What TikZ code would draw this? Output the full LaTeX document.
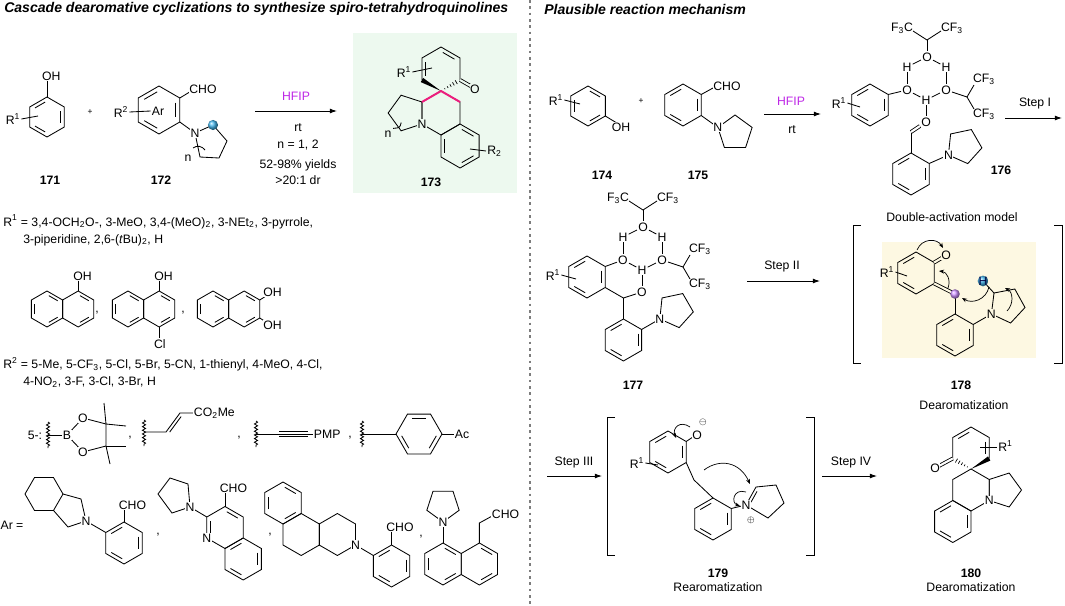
\documentclass[tikz,border=0pt]{standalone}
\usepackage{fontspec}
\setmainfont{Liberation Sans}
\usetikzlibrary{calc,arrows.meta,decorations.pathmorphing}

\definecolor{boxgreen}{RGB}{237,249,239}
\definecolor{boxyellow}{RGB}{253,248,226}
\definecolor{hfip}{RGB}{190,40,230}
\definecolor{bondpink}{RGB}{236,30,125}
\definecolor{dotblue}{RGB}{70,185,240}
\definecolor{dotviolet}{RGB}{205,145,255}
\definecolor{sepgray}{RGB}{125,125,125}

\newcommand{\hexpts}[5]{%
  \coordinate (#1-c) at (#2,#3);
  \foreach \k in {1,...,6}
    \coordinate (#1-\k) at ($(#2,#3)+({#5+60*(\k-1)}:#4)$);}
\newcommand{\hexat}[5]{%
  \hexpts{#1}{#2}{#3}{#4}{#5}
  \draw (#1-1) -- (#1-2) -- (#1-3) -- (#1-4) -- (#1-5) -- (#1-6) -- cycle;}
\newcommand{\penat}[5]{%
  \coordinate (#1-c) at (#2,#3);
  \foreach \k in {1,...,5}
    \coordinate (#1-\k) at ($(#2,#3)+({#5+72*(\k-1)}:#4)$);
  \draw (#1-1) -- (#1-2) -- (#1-3) -- (#1-4) -- (#1-5) -- cycle;}
\newcommand{\inb}[2]{%
  \foreach \a/\b in {#2}
    \draw[dbl] ($(#1-\a)!.2!(#1-c)$) -- ($(#1-\b)!.2!(#1-c)$);}
\newcommand{\wedgeb}[2]{%
  \fill (#1) -- ($(#2)!1.7pt!90:(#1)$) -- ($(#2)!1.7pt!-90:(#1)$) -- cycle;}
\newcommand{\hashb}[2]{%
  \foreach \t in {0.2,0.35,...,0.95}
    \draw[line width=0.5pt] ($(#1)!\t!(#2)!{\t*1.9pt}!90:(#2)$) -- ($(#1)!\t!(#2)!{\t*1.9pt}!-90:(#2)$);}
\newcommand{\hfipc}[3]{%
  \begin{scope}[shift={(#2,#3)}]
    \node (#1-Fa) at (-5,-62) {F\textsubscript{3}C};
    \node (#1-Fb) at (45,-62) {CF\textsubscript{3}};
    \coordinate (#1-Ca) at (20,-50);
    \node (#1-Oa) at (20,-33) {O};
    \node (#1-Ha) at (0,-23) {H};
    \node (#1-Hb) at (39,-23) {H};
    \node (#1-Ol) at (0,0) {O};
    \node (#1-Or) at (39,0) {O};
    \node (#1-Hc) at (19,10) {H};
    \node (#1-Ob) at (19,32) {O};
    \coordinate (#1-Cb) at (60,7);
    \node (#1-Fc) at (77,-11) {CF\textsubscript{3}};
    \node (#1-Fd) at (77,24) {CF\textsubscript{3}};
    \draw (6,-59) -- (#1-Ca) -- (34,-59);
    \draw (#1-Ca) -- (#1-Oa);
    \draw (#1-Oa) -- (#1-Ha);
    \draw (#1-Oa) -- (#1-Hb);
    \draw (#1-Ha) -- (#1-Ol);
    \draw (#1-Hb) -- (#1-Or);
    \draw (#1-Ol) -- (#1-Hc);
    \draw (#1-Hc) -- (#1-Or);
    \draw (#1-Hc) -- (#1-Ob);
    \draw (#1-Or) -- (#1-Cb) -- (67,-5);
    \draw (#1-Cb) -- (67,19);
  \end{scope}}

\begin{document}
\begin{tikzpicture}[x=0.025cm, y=-0.025cm, line width=0.6pt,
  every node/.style={font=\fontsize{8.7}{10}\selectfont, inner sep=0.6pt},
  atom/.style={fill=white, inner sep=0.4pt},
  atomg/.style={fill=boxgreen, inner sep=0.4pt},
  atomy/.style={fill=boxyellow, inner sep=0.4pt},
  cpd/.style={font=\fontsize{8.7}{10}\selectfont\bfseries},
  head/.style={font=\fontsize{10}{12}\selectfont\bfseries\itshape, anchor=west},
  small/.style={font=\fontsize{6}{6}\selectfont},
  rxn/.style={-{Latex[length=5pt,width=3.4pt]}},
  push/.style={-{Stealth[length=3.6pt,width=2.8pt]}, line width=0.5pt},
  wavy/.style={decorate, decoration={snake, amplitude=1.1pt, segment length=2.6pt}},
  dbl/.style={shorten <=1.5pt, shorten >=1.5pt}]
\useasboundingbox (0,0) rectangle (1065,605);
\fill[boxgreen] (353,33) rectangle (517,193);
\fill[boxyellow] (882,242) rectangle (1036,358);
\draw[sepgray, line width=1.4pt, dash pattern=on 1.9pt off 2.6pt] (530,0) -- (530,605);

\node[head] (t1) at (3,9) {Cascade dearomative cyclizations to synthesize spiro-tetrahydroquinolines};
\node[head] (t2) at (543,9) {Plausible reaction mechanism};

\hexat{P1}{47}{117}{20}{-90}
\inb{P1}{2/3,4/5,6/1}
\draw (P1-1) -- (47,80);
\node (r1a) at (13,119) {R\textsuperscript{1}};
\draw (r1a.east) -- (38,116);
\node[atom] (oh1) at (51.4,76) {OH};
\node[cpd] (n171) at (50,180) {171};
\node[small] (pl1) at (90,112) {+};

\hexat{A2}{159}{110}{24}{-90}
\inb{A2}{6/1,2/3,4/5}
\draw (A2-2) -- (193,90);
\node (r2a) at (121,112) {R\textsuperscript{2}};
\node (ar2) at (158,111) {Ar};
\draw (r2a.east) -- (ar2.west);
\coordinate (Q2-1) at (195,133);
\coordinate (Q2-2) at (213,125);
\coordinate (Q2-3) at (227,141);
\coordinate (Q2-4) at (219,158);
\coordinate (Q2-5) at (200,157);
\draw (Q2-1) -- (Q2-2) -- (Q2-3) -- (Q2-4) -- (Q2-5) -- cycle;
\draw (A2-3) -- (Q2-1);
\draw (193,148) .. controls (197,145) and (202,146) .. (205,150);
\node (nn2) at (188,158) {n};
\shade[ball color=dotblue] (Q2-2) circle (3.6pt);
\node[atom] (cho2) at (203,89) {CHO};
\node[atom] (n2) at (Q2-1) {N};
\node[cpd] (n172) at (161,180) {172};

\coordinate (a1s) at (255,111);
\coordinate (a1e) at (337,111);
\draw[rxn] (a1s) -- (a1e);
\node[text=hfip] (h1) at (296,96) {HFIP};
\node (c1) at (298,128) {rt};
\node (c2) at (298,145) {n = 1, 2};
\node (c3) at (298,165) {52-98\% yields};
\node (c4) at (298,180) {>20:1 dr};

\hexpts{D3}{441}{69}{22}{-90}
\draw (D3-5) -- (D3-6) -- (D3-1) -- (D3-2) -- (D3-3);
\inb{D3}{1/2,5/6}
\wedgeb{D3-4}{D3-5}
\hashb{D3-4}{D3-3}
\draw[double, double=boxgreen, double distance=1.5pt] (D3-3) -- (474,88);
\hexat{B3}{441}{113}{22}{-90}
\hexat{C3}{460.05}{146}{22}{-90}
\inb{C3}{1/2,3/4,5/6}
\penat{Q3}{406.86}{113}{18.71}{-36}
\draw (401.2,122.6) .. controls (399.8,127.8) .. (393.2,128.4);
\node (nn3) at (388,134) {n};
\draw[bondpink, line width=1.4pt] (B3-6) -- (B3-1) -- (B3-2);
\node (r1b) at (404,72) {R\textsuperscript{1}};
\draw (r1b.east) -- (432,68);
\draw (470,149) -- (486,151);
\node[anchor=west] (r2b) at (486,151) {R\textsubscript{2}};
\node[atomg] (o3) at (475,89) {O};
\node[atomg] (n3) at (B3-5) {N};
\node[cpd] (n173) at (431,182) {173};

\node[anchor=west] (sr1) at (2,222) {R\textsuperscript{1} = 3,4-OCH\textsubscript{2}O-, 3-MeO, 3,4-(MeO)\textsubscript{2}, 3-NEt\textsubscript{2}, 3-pyrrole,};
\node[anchor=west] (sr1b) at (22,240) {3-piperidine, 2,6-(\textit{t}Bu)\textsubscript{2}, H};

\hexat{N1}{47}{309}{18}{-90}
\hexat{M1}{78.18}{309}{18}{-90}
\inb{N1}{5/6,1/2,3/4}
\inb{M1}{1/2,3/4}
\draw (M1-1) -- (78.18,281);
\node[atom] (oh4) at (82.6,276) {OH};
\node (cm1) at (97,313) {,};
\hexat{N2}{128}{309}{18}{-90}
\hexat{M2}{159.18}{309}{18}{-90}
\inb{N2}{5/6,1/2,3/4}
\inb{M2}{1/2,3/4}
\draw (M2-1) -- (159.18,281);
\draw (M2-4) -- (159.18,338);
\node[atom] (oh5) at (163.6,276) {OH};
\node[atom] (cl5) at (159.9,344) {Cl};
\node (cm2) at (183,313) {,};
\hexat{N3}{213}{309}{18}{-90}
\hexat{M3}{244.18}{309}{18}{-90}
\inb{N3}{5/6,1/2,3/4}
\inb{M3}{1/2,3/4}
\draw (M3-2) -- (266,296);
\draw (M3-3) -- (266,322);
\node[atom] (oh6) at (272.5,292) {OH};
\node[atom] (oh7) at (272.5,325) {OH};

\node[anchor=west] (sr2) at (2,364) {R\textsuperscript{2} = 5-Me, 5-CF\textsubscript{3}, 5-Cl, 5-Br, 5-CN, 1-thienyl, 4-MeO, 4-Cl,};
\node[anchor=west] (sr2b) at (22,382) {4-NO\textsubscript{2}, 3-F, 3-Cl, 3-Br, H};

\node (s5) at (35,435) {5-:};
\draw[wavy] (48,422) -- (48,448);
\coordinate (bB) at (67,435);
\coordinate (bO1) at (83,418);
\coordinate (bC1) at (106,424);
\coordinate (bC2) at (106,446);
\coordinate (bO2) at (83,452);
\draw (48,435) -- (bB);
\draw (bB) -- (bO1) -- (bC1) -- (bC2) -- (bO2) -- cycle;
\draw (bC1) -- (104,403);
\draw (bC1) -- (126,426);
\draw (bC2) -- (126,446);
\draw (bC2) -- (110,464);
\node[atom] (bBn) at (bB) {B};
\node[atom] (bO1n) at (bO1) {O};
\node[atom] (bO2n) at (bO2) {O};
\node (cm3) at (130,438) {,};
\draw[wavy] (144,420) -- (144,446);
\draw (144,432) -- (166,432) -- (180,413) -- (194,413);
\draw[dbl] (168.4,433.8) -- (182.4,414.8);
\node[atom,anchor=west] (co2me) at (193,413) {CO\textsubscript{2}Me};
\node (cm4) at (239,438) {,};
\draw[wavy] (256,421) -- (256,447);
\draw (256,434) -- (314,434);
\draw (279,431.6) -- (308,431.6);
\draw (279,436.4) -- (308,436.4);
\node[atom,anchor=west] (pmp) at (313,434) {PMP};
\node (cm5) at (350,438) {,};
\draw[wavy] (362,421) -- (362,447);
\hexat{K1}{419}{434}{23}{0}
\inb{K1}{5/6,1/2,3/4}
\draw (362,434) -- (K1-4);
\draw (K1-1) -- (455,434);
\node[atom,anchor=west] (ac) at (454,434) {Ac};

\node (arlab) at (12,525) {Ar =};
\hexat{X1}{44}{494}{19}{0}
\coordinate (X1a) at (81,499);
\coordinate (X1n) at (86,521);
\coordinate (X1b) at (68,527);
\draw (X1-1) -- (X1a) -- (X1n) -- (X1b) -- (X1-2);
\hexat{Y1}{124}{543}{21}{-90}
\inb{Y1}{2/3,4/5,6/1}
\draw (X1n) -- (Y1-6);
\draw (Y1-1) -- (124,510);
\node[atom] (cho7) at (132.5,505) {CHO};
\node[atom] (n7) at (X1n) {N};
\node (cm6) at (158,535) {,};

\coordinate (Q5-1) at (158,494);
\coordinate (Q5-2) at (170,478);
\coordinate (Q5-3) at (188,484);
\coordinate (Q5-4) at (190,507);
\coordinate (Q5-5) at (172,513);
\draw (Q5-1) -- (Q5-2) -- (Q5-3) -- (Q5-4) -- (Q5-5) -- cycle;
\hexat{Q6}{225}{527.5}{21}{-90}
\hexat{Q7}{243.19}{559}{21}{-90}
\inb{Q6}{5/6,1/2}
\inb{Q7}{6/1,2/3,4/5}
\draw (Q5-4) -- (Q6-6);
\draw (Q6-1) -- (225,493);
\node[atom] (cho8) at (233.5,488) {CHO};
\node[atom] (n8a) at (Q5-4) {N};
\node[atom] (n8b) at (Q6-5) {N};
\node (cm7) at (270,535) {,};

\hexat{E1}{283}{503}{21}{-90}
\hexat{E2}{301.19}{534.5}{21}{-90}
\hexat{E3}{337.37}{534.5}{21}{-90}
\inb{E1}{5/6,1/2,3/4}
\hexat{E4}{391.56}{566}{21}{-90}
\inb{E4}{2/3,4/5,6/1}
\draw (E3-3) -- (E4-6);
\draw (E4-1) -- (391.56,532);
\node[atom] (cho9) at (400,527) {CHO};
\node[atom] (n9) at (E3-3) {N};
\node (cm8) at (421,537) {,};

\penat{Q8}{443}{505}{17}{90}
\hexat{L4}{443}{564}{21}{-90}
\hexat{R4}{479.37}{564}{21}{-90}
\inb{L4}{5/6,1/2,3/4}
\inb{R4}{1/2,3/4}
\draw (Q8-1) -- (L4-1);
\draw (R4-1) -- (479.37,523) -- (494,515);
\node[atom,anchor=west] (cho10) at (491,514) {CHO};
\node[atom] (n10) at (Q8-1) {N};

\hexat{P4}{588}{106}{20}{-90}
\inb{P4}{1/2,3/4,5/6}
\draw (P4-3) -- (616,122.5);
\node (r1c) at (556,100) {R\textsuperscript{1}};
\draw (r1c.east) -- (580,104);
\node[atom] (oh11) at (621,127) {OH};
\node[cpd] (n174) at (602,175) {174};
\node[small] (pl2) at (641,101) {+};

\hexat{A5}{683}{105}{21}{-90}
\inb{A5}{6/1,2/3,4/5}
\draw (A5-2) -- (713,88);
\penat{Q9}{735}{133}{18}{198}
\draw (A5-3) -- (Q9-1);
\node[atom] (cho12) at (727,86) {CHO};
\node[atom] (n12) at (Q9-1) {N};
\node[cpd] (n175) at (698,175) {175};

\draw[rxn] (764,114) -- (821,114);
\node[text=hfip] (h2) at (791,101) {HFIP};
\node (c5) at (792,130) {rt};

\hexat{P6}{870}{105}{21}{-90}
\inb{P6}{6/1,2/3,4/5}
\hfipc{U6}{907}{90}
\draw (P6-2) -- (U6-Ol);
\node (r1d) at (839,103) {R\textsuperscript{1}};
\draw (r1d.east) -- (860,107);
\hexat{B6}{911}{174}{21}{-90}
\inb{B6}{6/1,2/3,4/5}
\coordinate (ald6) at (911,132);
\draw (B6-1) -- (ald6);
\draw[double, double distance=1.5pt] (ald6) -- (U6-Ob);
\penat{Q10}{964}{146}{18}{150}
\draw (B6-2) -- (Q10-1);
\node[atom] (n13) at (Q10-1) {N};
\node[cpd] (n176) at (1001,170) {176};
\draw[rxn] (1005,118) -- (1062,118);
\node (st1) at (1035,103) {Step I};
\node (dam) at (952,217) {Double-activation model};

\hexat{P7}{587}{277}{21}{-90}
\inb{P7}{6/1,2/3,4/5}
\hfipc{U7}{623}{260}
\draw (P7-2) -- (U7-Ol);
\coordinate (cc7) at (623.4,298);
\draw (P7-3) -- (cc7) -- (U7-Ob);
\hexat{B7}{623.4}{340}{21}{-90}
\inb{B7}{6/1,2/3,4/5}
\draw (cc7) -- (B7-1);
\penat{Q11}{675.4}{310}{18}{150}
\draw (B7-2) -- (Q11-1);
\node[atom] (n14) at (Q11-1) {N};
\node (r1e) at (553,275) {R\textsuperscript{1}};
\draw (r1e.east) -- (576,279);
\node[cpd] (n177) at (633,385) {177};
\draw[rxn] (747,281) -- (820,281);
\node (st2) at (782,266) {Step II};

\draw (861,225) -- (853,225) -- (853,363) -- (861,363);
\draw (1054,225) -- (1062,225) -- (1062,363) -- (1054,363);
\hexat{D8}{916}{273}{21}{-90}
\inb{D8}{6/1,4/5}
\coordinate (cv8) at (955,294);
\draw[double, double=boxyellow, double distance=1.5pt] (D8-3) -- (cv8);
\draw[double, double=boxyellow, double distance=1.5pt] (D8-2) -- (945,256);
\hexat{B8}{955}{335}{21}{-90}
\inb{B8}{6/1,2/3,4/5}
\draw (cv8) -- (B8-1);
\coordinate (Q12-1) at (991.4,314);
\coordinate (Q12-2) at (994,293);
\coordinate (Q12-3) at (1014.8,289);
\coordinate (Q12-4) at (1025,307.5);
\coordinate (Q12-5) at (1010.6,323);
\draw (Q12-1) -- (Q12-2) -- (Q12-3) -- (Q12-4) -- (Q12-5) -- cycle;
\draw (B8-2) -- (Q12-1);
\coordinate (hh8) at (983,281);
\draw (Q12-2) -- (hh8);
\shade[ball color=dotviolet] (cv8) circle (3.4pt);
\shade[ball color=dotblue] (hh8) circle (3.8pt);
\node[text=black!75!blue] (h8) at (hh8) {H};
\node[atomy] (o8) at (946,255) {O};
\node[atomy] (n15) at (Q12-1) {N};
\node (r1f) at (887,272) {R\textsuperscript{1}};
\draw (r1f.east) -- (907,276);
\draw[push] (917,250) .. controls (922,238) and (937,238) .. (943,248);
\draw[push] (948,288) .. controls (951,280) and (947,272) .. (939,271);
\draw[push] (989,287) .. controls (986,300) and (972,304) .. (962,298);
\draw[push] (1007,311) .. controls (1014,304) and (1013,292) .. (1005,288);
\node[cpd] (n178) at (961,385) {178};
\node (dm1) at (964,405) {Dearomatization};

\draw[rxn] (547,476) -- (602,476);
\node (st3) at (574,462) {Step III};
\draw (615,417) -- (607,417) -- (607,555) -- (615,555);
\draw (806,417) -- (814,417) -- (814,555) -- (806,555);
\hexat{P9}{668}{452}{21}{-90}
\inb{P9}{6/1,2/3,4/5}
\draw (P9-2) -- (696,435);
\coordinate (ch9) at (694,480);
\hexat{B9}{713}{519}{21}{-90}
\inb{B9}{6/1,2/3,4/5}
\draw (P9-3) -- (ch9) -- (B9-1);
\coordinate (Q13-c) at (766,500);
\coordinate (Q13-1) at (746,505);
\coordinate (Q13-2) at (756,487);
\coordinate (Q13-3) at (776,485);
\coordinate (Q13-4) at (784,503);
\coordinate (Q13-5) at (768,518);
\draw (Q13-1) -- (Q13-2) -- (Q13-3) -- (Q13-4) -- (Q13-5) -- cycle;
\inb{Q13}{1/2}
\draw (B9-2) -- (Q13-1);
\node[atom] (o9) at (697,435) {O};
\node[font=\fontsize{6.5}{7}\selectfont] (neg9) at (703,422) {$\ominus$};
\node[atom] (n16) at (Q13-1) {N};
\node[font=\fontsize{6.5}{7}\selectfont] (pos9) at (751,520) {$\oplus$};
\node (r1g) at (637,463) {R\textsuperscript{1}};
\draw (r1g.east) -- (658,465);
\draw[push] (690,427) .. controls (680,420) and (672,428) .. (676,438);
\draw[push] (704,470) .. controls (720,458) and (740,462) .. (750,484);
\draw[push] (746,492) .. controls (733,488) and (731,503) .. (740,506);
\node[cpd] (n179) at (718,573) {179};
\node (rm1) at (718,587) {Rearomatization};
\draw[rxn] (822,476) -- (877,476);
\node (st4) at (851,462) {Step IV};

\hexpts{D0}{971}{448}{21}{-90}
\draw (D0-5) -- (D0-6) -- (D0-1) -- (D0-2) -- (D0-3);
\inb{D0}{6/1,2/3}
\wedgeb{D0-4}{D0-3}
\hashb{D0-4}{D0-5}
\draw[double, double distance=1.5pt] (D0-5) -- (937,467);
\hexat{B0}{971}{490}{21}{-90}
\hexat{C0}{952.81}{521.5}{21}{-90}
\inb{C0}{6/1,2/3,4/5}
\penat{Q0}{1003.64}{490}{17.86}{144}
\draw (980,447) -- (997,447);
\node[anchor=west] (r1h) at (997,446) {R\textsuperscript{1}};
\node[atom] (o0) at (935,468) {O};
\node[atom] (n17) at (Q0-1) {N};
\node[cpd] (n180) at (971,573) {180};
\node (dm2) at (971,587) {Dearomatization};
\end{tikzpicture}
\end{document}
